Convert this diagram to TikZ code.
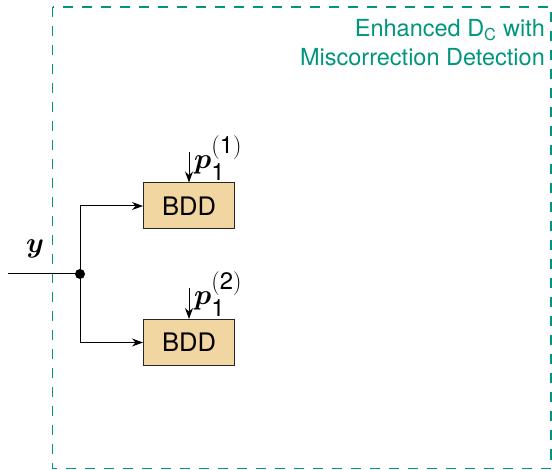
\documentclass[tikz,border=0pt]{standalone}
\usepackage{fontspec}
\setsansfont{TeX Gyre Heros}
\usepackage{amsmath,bm,graphicx}
\usetikzlibrary{arrows.meta}
\definecolor{tealc}{RGB}{0,150,125}
\definecolor{bddfill}{RGB}{242,214,162}
\tikzset{
  blk/.style={draw=black!85, fill=bddfill, line width=1pt, minimum width=91pt, minimum height=46pt,
    inner sep=0pt, font=\sffamily\fontsize{25.5}{30}\selectfont},
  wire/.style={line width=1pt},
  arr/.style={wire, -{Stealth[length=11pt,width=8pt]}},
  lbl/.style={inner sep=1pt, font=\fontsize{24.88}{30}\selectfont}
}
\newcommand{\sfd}[1]{\text{\sffamily #1}}
\newcommand{\biglbl}[1]{\scalebox{1.15}{#1}}
\begin{document}
\begin{tikzpicture}[x=1pt,y=-1pt]
\useasboundingbox (0,0) rectangle (552,470);
% enclosing dashed block
\draw[tealc, line width=1.2pt, dash pattern=on 10pt off 9pt] (52.5,7) rectangle (551,468.5);
\node[anchor=base east, align=right, text=tealc, inner sep=0pt,
  font=\sffamily\fontsize{23.5}{29}\selectfont] (title) at (545,66)
  {Enhanced D$_{\text{C}}$ with\\Miscorrection Detection};
% decoders
\node[blk] (b1) at (189,206) {BDD};
\node[blk] (b2) at (189,342.5) {BDD};
% input and branch point
\coordinate (in) at (8,274);
\coordinate (j) at (80,274);
\draw[wire] (in) -- (j);
\fill (j) circle (5pt);
\node[lbl, anchor=base] (ylab) at (35,253) {\biglbl{$\bm{y}$}};
\draw[arr] (j) |- (b1.west);
\draw[arr] (j) |- (b2.west);
% parity check inputs
\coordinate (p1) at (b1.north |- 0,152);
\coordinate (p2) at (b2.north |- 0,288);
\draw[arr] (p1) -- (b1.north);
\draw[arr] (p2) -- (b2.north);
\node[lbl, anchor=base west] (l1) at (193,169) {\biglbl{$\bm{p}_{\sfd{1}}^{(\sfd{1})}$}};
\node[lbl, anchor=base west] (l2) at (193,305) {\biglbl{$\bm{p}_{\sfd{1}}^{(\sfd{2})}$}};
\end{tikzpicture}
\end{document}
